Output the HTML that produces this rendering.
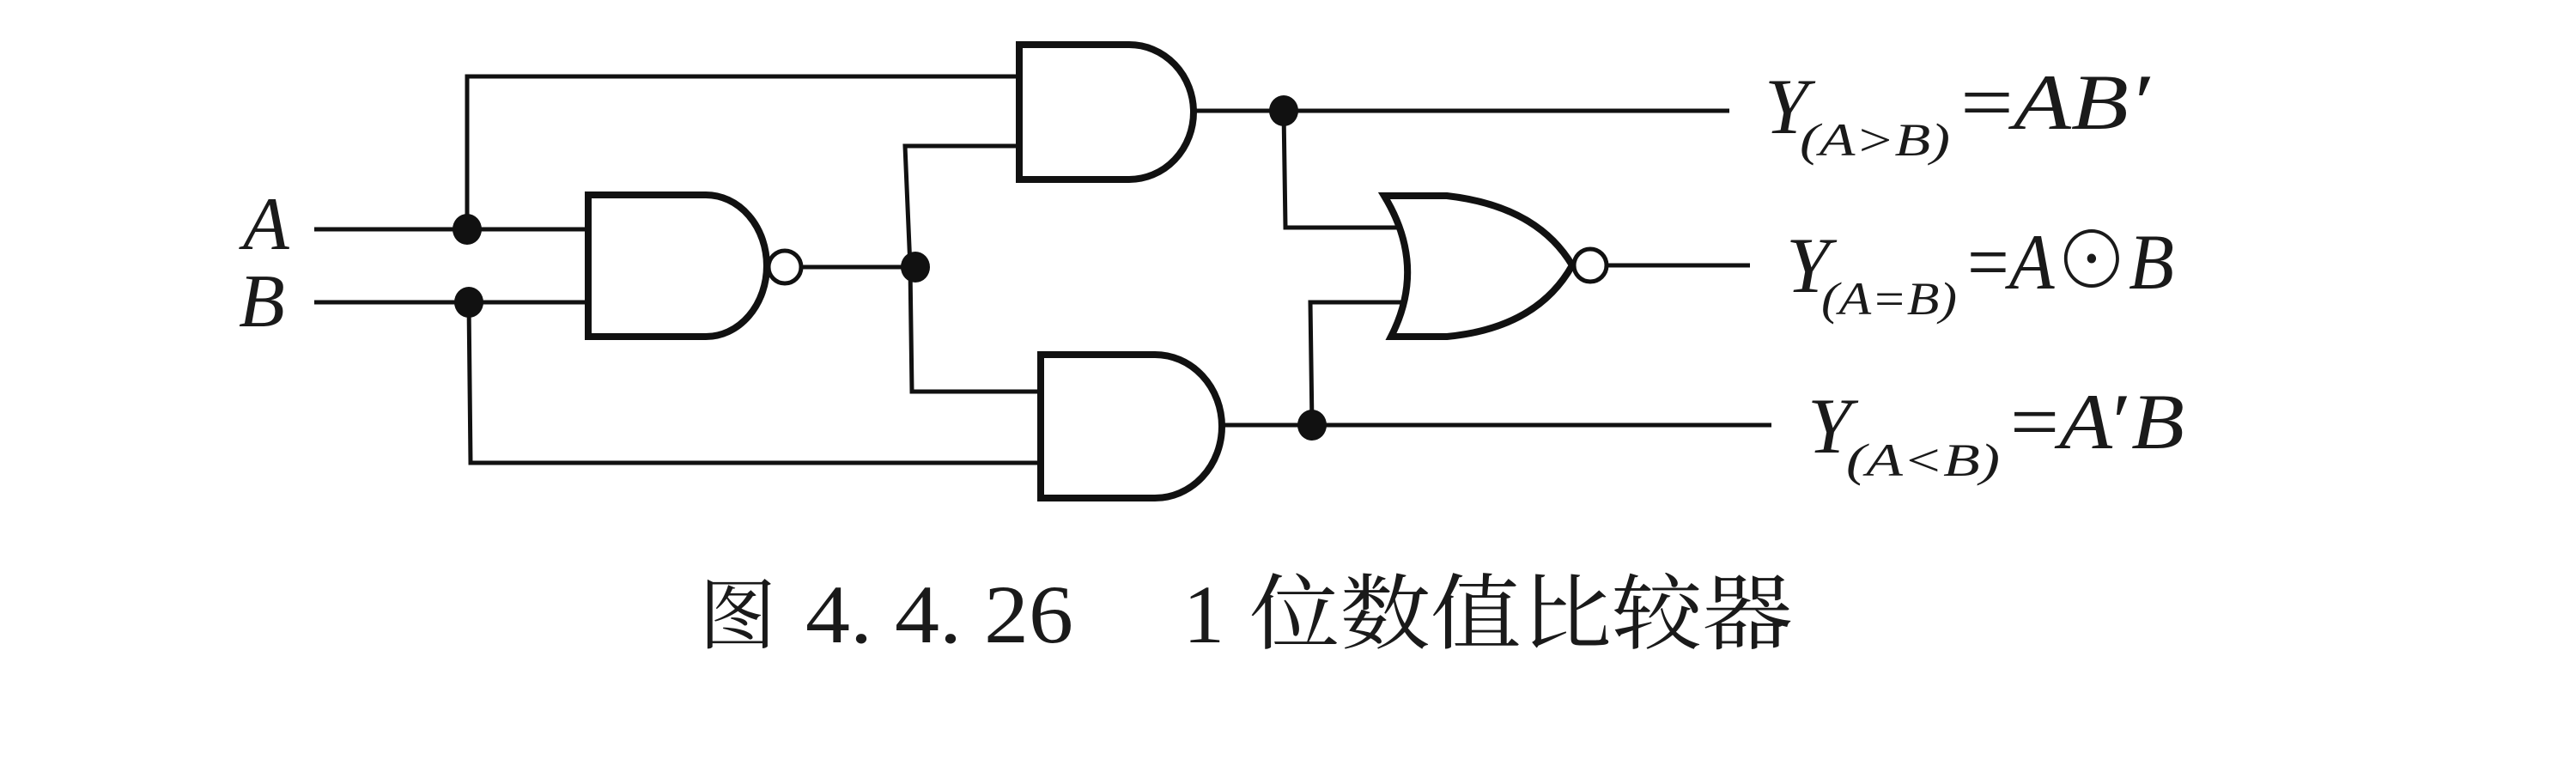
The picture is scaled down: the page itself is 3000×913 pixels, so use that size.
<!DOCTYPE html>
<html><head><meta charset="utf-8"><style>
html,body{margin:0;padding:0;background:#fff;}
svg{display:block;}
text{font-family:"Liberation Serif","Noto Serif CJK SC",serif;fill:#1a1a1a;}
</style></head><body>
<svg width="3000" height="913" viewBox="0 0 3000 913" xmlns="http://www.w3.org/2000/svg">
<g stroke="#111" fill="none" stroke-width="5">
<line x1="366" y1="267" x2="685" y2="267"/>
<line x1="366" y1="352" x2="685" y2="352"/>
<polyline points="544,267 544,89 1187,89"/>
<polyline points="546,352 548,539 1212,539"/>
<line x1="934" y1="311" x2="1060" y2="311"/>
<polyline points="1187,170 1054,170 1060,311 1062,456 1212,456"/>
<line x1="1390" y1="129" x2="2014" y2="129"/>
<polyline points="1495,129 1497,265 1640,265"/>
<line x1="1423" y1="495" x2="2063" y2="495"/>
<polyline points="1528,495 1526,352 1646,352"/>
<line x1="1872" y1="309" x2="2038" y2="309"/>
</g>
<g stroke="#111" fill="#fff" stroke-width="8">
<path d="M685,227 H822 A71,82.5 0 0 1 822,392 H685 Z"/>
<path d="M1187,52 H1315 A75,78.5 0 0 1 1315,209 H1187 Z"/>
<path d="M1212,413 H1345 A78,83.5 0 0 1 1345,580 H1212 Z"/>
<path d="M1612,228 H1685 Q1790,240 1831,309 Q1790,382 1685,392 H1620 Q1662,310 1612,228 Z"/>
<circle cx="914" cy="311" r="19" stroke-width="5"/>
<circle cx="1852" cy="309" r="19" stroke-width="5"/>
</g>
<g fill="#111">
<ellipse cx="544" cy="267" rx="17" ry="18"/>
<ellipse cx="546" cy="352" rx="17" ry="18"/>
<ellipse cx="1066" cy="311" rx="17" ry="18"/>
<ellipse cx="1495" cy="129" rx="17" ry="18"/>
<ellipse cx="1528" cy="495" rx="17" ry="18"/>
</g>
<g font-style="italic">
<text x="283" y="290" font-size="88">A</text>
<text x="278" y="380" font-size="88">B</text>
</g>
<text x="2055" y="155" font-size="92" font-style="italic">Y</text>
<text x="2096" y="181" font-size="54" font-style="italic" textLength="175" lengthAdjust="spacingAndGlyphs">(A&gt;B)</text>
<text x="2283" y="150" font-size="92" textLength="220" lengthAdjust="spacingAndGlyphs">=<tspan font-style="italic">AB′</tspan></text>

<text x="2080" y="340" font-size="92" font-style="italic">Y</text>
<text x="2121" y="366" font-size="54" font-style="italic" textLength="158" lengthAdjust="spacingAndGlyphs">(A=B)</text>
<text x="2291" y="336" font-size="92" textLength="241" lengthAdjust="spacingAndGlyphs">=<tspan font-style="italic">A</tspan>⊙<tspan font-style="italic">B</tspan></text>

<text x="2105" y="527" font-size="92" font-style="italic">Y</text>
<text x="2150" y="554" font-size="54" font-style="italic" textLength="179" lengthAdjust="spacingAndGlyphs">(A&lt;B)</text>
<text x="2341" y="522" font-size="92" textLength="203" lengthAdjust="spacingAndGlyphs">=<tspan font-style="italic">A</tspan>′<tspan font-style="italic">B</tspan></text>

<text x="814" y="748" font-size="90" font-family="'Noto Serif CJK SC',serif">图</text>
<text x="938" y="748" font-size="96" textLength="312" lengthAdjust="spacingAndGlyphs">4. 4. 26</text>
<text x="1378" y="748" font-size="96">1</text>
<text x="1455" y="748" font-size="96" font-family="'Noto Serif CJK SC',serif" textLength="633" lengthAdjust="spacingAndGlyphs">位数值比较器</text>
</svg>
</body></html>
